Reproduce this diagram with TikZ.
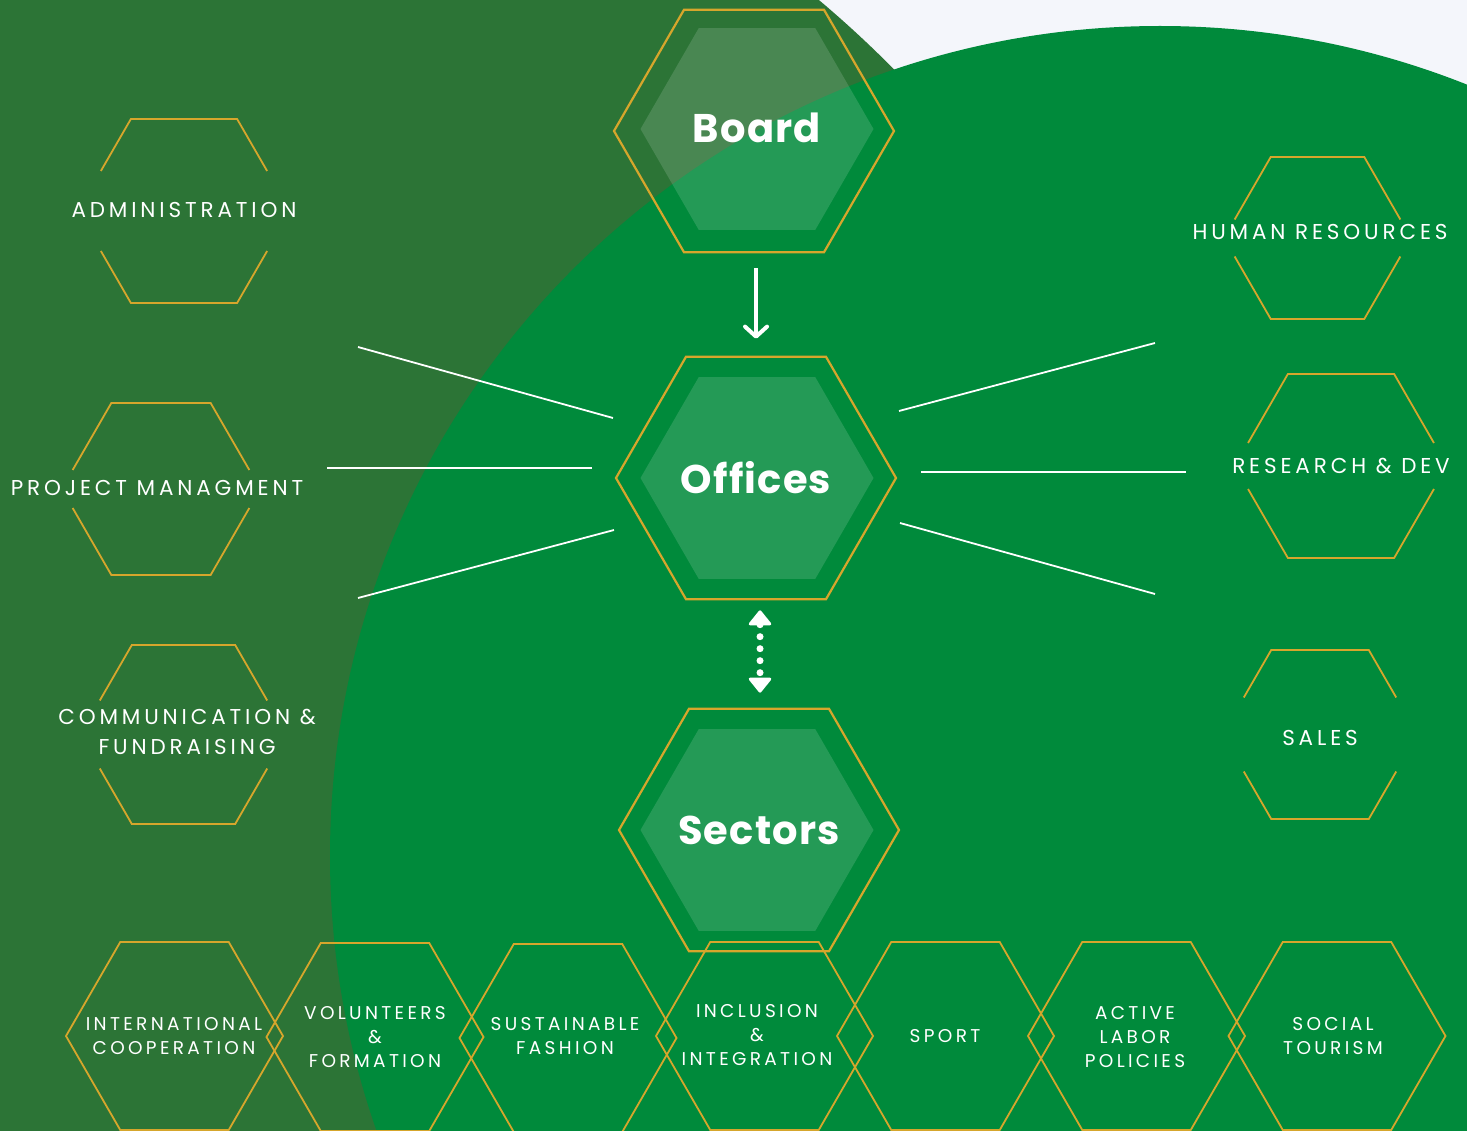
\documentclass[tikz,border=0pt]{standalone}
\usepackage{fontspec}
\setmainfont{Poppins}
\newfontfamily\labfont[LetterSpace=18]{Poppins}
\newfontfamily\headfont[LetterSpace=3]{Poppins}
\usetikzlibrary{shapes.geometric,arrows.meta,calc}
\definecolor{dkg}{HTML}{2C7436}
\definecolor{brg}{HTML}{008A3B}
\definecolor{lbg}{HTML}{F4F6FB}
\definecolor{gold}{HTML}{D6A62C}
\tikzset{
  bighex/.style={regular polygon, regular polygon sides=6, minimum size=280pt, inner sep=0pt,
    draw=gold, line width=2.2pt, text=white, font=\headfont\bfseries\fontsize{40}{44}\selectfont},
  innerhex/.style={regular polygon, regular polygon sides=6, minimum size=233pt, inner sep=0pt,
    fill=white, fill opacity=0.14, draw=none},
  smallhex/.style={regular polygon, regular polygon sides=6, minimum size=217pt, inner sep=0pt,
    draw=gold, line width=1.8pt},
  goldline/.style={draw=gold, line width=1.8pt},
  lab/.style={text=white, align=center, inner sep=0pt, font=\labfont\fontsize{18.5}{24}\selectfont},
  sidelab/.style={lab, font=\labfont\fontsize{21.5}{30}\selectfont},
  spoke/.style={draw=white, line width=1.8pt},
}
\newcommand\gaphex[3]{%
  \pgfmathsetmacro\ghh{#2}%
  \pgfmathsetmacro\ghq{#2*0.57735}%
  \pgfmathsetmacro\gsl{#2*0.57735+(#2-#3)*0.57735}%
  \draw[goldline] ($(#1)+(-\gsl,-#3)$) -- ($(#1)+(-\ghq,-\ghh)$) -- ($(#1)+(\ghq,-\ghh)$) -- ($(#1)+(\gsl,-#3)$);
  \draw[goldline] ($(#1)+(-\gsl,#3)$) -- ($(#1)+(-\ghq,\ghh)$) -- ($(#1)+(\ghq,\ghh)$) -- ($(#1)+(\gsl,#3)$);}
\begin{document}
\begin{tikzpicture}[x=1pt,y=-1pt]
\useasboundingbox (0,0) rectangle (1467,1131);
\fill[lbg] (0,0) rectangle (1467,1131);
\begin{scope}
  \clip (0,0) rectangle (1467,1131);
  \fill[dkg] (111,842) circle[radius=1100pt];
  \fill[brg] (1160,856) circle[radius=830pt];
\end{scope}

% main hexagons
\node[innerhex] (boardin) at (757,129) {};
\node[bighex] (board) at (754,131) {};
\node[text=white, font=\headfont\bfseries\fontsize{40}{44}\selectfont, inner sep=0pt] (boardtxt) at (757,128) {Board};
\node[innerhex] (officesin) at (757,478) {};
\node[bighex] (offices) at (756,478) {Offices};
\node[innerhex] (sectorsin) at (757,830) {};
\node[bighex] (sectors) at (759,830) {Sectors};

% arrows
\draw[white, line width=4pt, -{Straight Barb[length=10pt,width=22pt,line cap=round,line join=round]}]
  ([yshift=-15pt]board.south -| offices.north) -- ([yshift=17pt]offices.north);
\draw[white, line width=7pt, line cap=round, dash pattern=on 0pt off 12pt,
  {Triangle[length=16pt,width=25pt,round,line width=3pt]}-{Triangle[length=16pt,width=25pt,round,line width=3pt]}]
  ([xshift=4pt,yshift=-10pt]offices.south) -- ([xshift=1pt,yshift=15pt]sectors.north);

% spokes
\coordinate (l1a) at (358,347); \coordinate (l1b) at (613,418);
\coordinate (l2a) at (327,468); \coordinate (l2b) at (592,468);
\coordinate (l3a) at (358,598); \coordinate (l3b) at (614,530);
\coordinate (r1a) at (899,411); \coordinate (r1b) at (1155,343);
\coordinate (r2a) at (921,472); \coordinate (r2b) at (1186,472);
\coordinate (r3a) at (900,523); \coordinate (r3b) at (1155,594);
\draw[spoke] (l1a) -- (l1b);
\draw[spoke] (l2a) -- (l2b);
\draw[spoke] (l3a) -- (l3b);
\draw[spoke] (r1a) -- (r1b);
\draw[spoke] (r2a) -- (r2b);
\draw[spoke] (r3a) -- (r3b);

% side hexagons (open in the middle)
\gaphex{184,211}{92}{40}
\node[sidelab] (adm) at (184,210) {ADMINISTRATION};
\gaphex{161,489}{86}{19}
\node[sidelab] (pm) at (157,488) {PROJECT MANAGMENT};
\gaphex{183.5,734.5}{89.5}{34}
\node[sidelab] (com) at (187,732) {COMMUNICATION \&\\FUNDRAISING};
\gaphex{1317.5,238}{81}{18.5}
\node[sidelab] (hr) at (1320,232) {HUMAN RESOURCES};
\gaphex{1341,466}{92}{23}
\node[sidelab] (rd) at (1341,466) {RESEARCH \& DEV};
\gaphex{1320,734.5}{84.5}{37}
\node[sidelab] (sales) at (1320,738) {SALES};

% bottom row
\node[smallhex] (h1) at (174.5,1036) {};
\node[smallhex] (h2) at (375,1037) {};
\node[smallhex] (h3) at (568,1038) {};
\node[smallhex] (h4) at (764.5,1036) {};
\node[smallhex] (h5) at (945.5,1036) {};
\node[smallhex] (h6) at (1136.5,1036) {};
\node[smallhex] (h7) at (1337,1036) {};
\node[lab] (t1) at (174,1036) {INTERNATIONAL\\COOPERATION};
\node[lab] (t2) at (375,1037) {VOLUNTEERS\\\&\\FORMATION};
\node[lab] (t3) at (565,1036) {SUSTAINABLE\\FASHION};
\node[lab] (t4) at (757,1035.5) {INCLUSION\\\&\\INTEGRATION};
\node[lab] (t5) at (945,1036) {SPORT};
\node[lab] (t6) at (1135,1037) {ACTIVE\\LABOR\\POLICIES};
\node[lab] (t7) at (1333,1036) {SOCIAL\\TOURISM};
\end{tikzpicture}
\end{document}
